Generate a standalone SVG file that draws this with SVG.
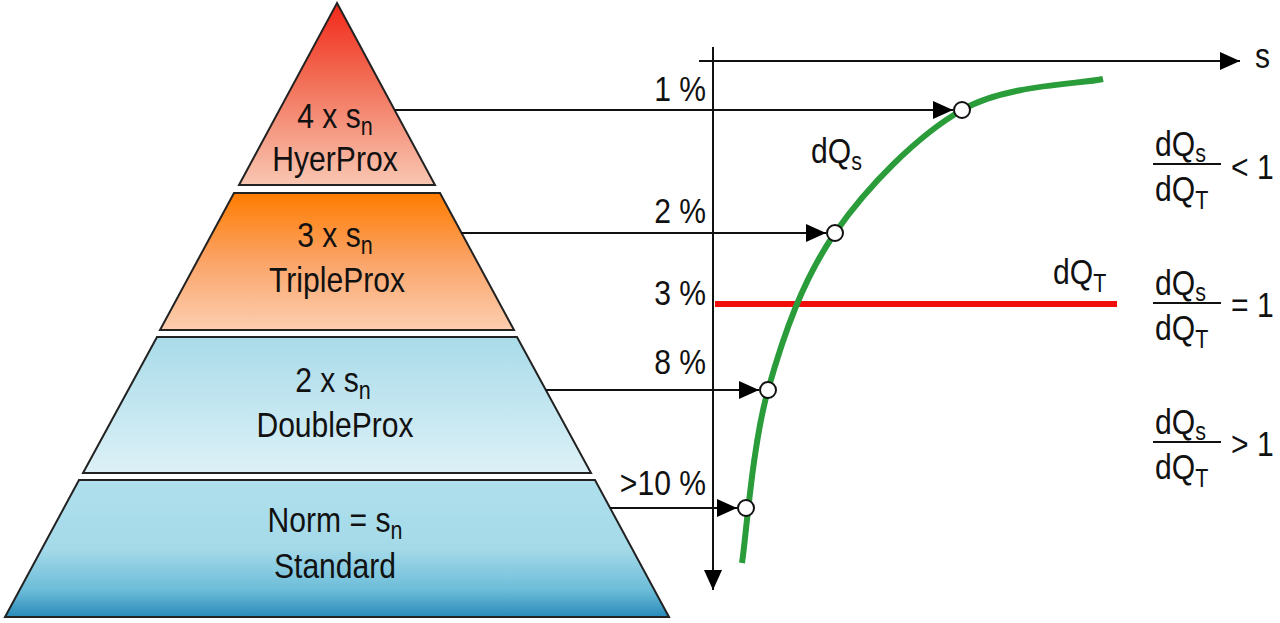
<svg xmlns="http://www.w3.org/2000/svg" width="1280" height="623" viewBox="0 0 1280 623">
<defs>
<linearGradient id="gRed" x1="0" y1="0" x2="0" y2="1">
<stop offset="0" stop-color="#f2281a"/><stop offset="0.4" stop-color="#f26a52"/><stop offset="1" stop-color="#f9c7b2"/>
</linearGradient>
<linearGradient id="gOrange" x1="0" y1="0" x2="0" y2="1">
<stop offset="0" stop-color="#ff7c00"/><stop offset="0.5" stop-color="#fba468"/><stop offset="1" stop-color="#fcceb0"/>
</linearGradient>
<linearGradient id="gLight" x1="0" y1="0" x2="0" y2="1">
<stop offset="0" stop-color="#a9dbe9"/><stop offset="1" stop-color="#dcf1f7"/>
</linearGradient>
<linearGradient id="gBlue" x1="0" y1="0" x2="0" y2="1">
<stop offset="0" stop-color="#afdfec"/><stop offset="0.5" stop-color="#a5dae9"/><stop offset="0.8" stop-color="#6dbdd9"/><stop offset="1" stop-color="#2a8aba"/>
</linearGradient>
<marker id="arr" markerUnits="userSpaceOnUse" markerWidth="20" markerHeight="18" refX="20" refY="9" orient="auto">
<path d="M0,0 L20,9 L0,18 z" fill="#000"/>
</marker>
</defs>
<style>
.tier{stroke:#222;stroke-width:2;stroke-linejoin:miter}
.t{font-family:"Liberation Sans",Arial,sans-serif;font-size:35px;fill:#111}
.sub{font-size:25px}
.mid{text-anchor:middle}
.end{text-anchor:end}
.ln{stroke:#111;stroke-width:2;fill:none}
.pt{fill:#fff;stroke:#111;stroke-width:2}
</style>
<rect width="1280" height="623" fill="#fff"/>

<g id="tier-hyperprox">
<polygon class="tier" fill="url(#gRed)" points="337,3 435,185 239,185"/>
<text class="t mid" transform="translate(335 128) scale(.86 1)">4 x s<tspan class="sub" dy="7">n</tspan></text>
<text class="t mid" transform="translate(335 171) scale(.86 1)">HyerProx</text>
</g>
<g id="tier-tripleprox">
<polygon class="tier" fill="url(#gOrange)" points="234,193 440,193 514,330 160,330"/>
<text class="t mid" transform="translate(335 247) scale(.86 1)">3 x s<tspan class="sub" dy="7">n</tspan></text>
<text class="t mid" transform="translate(337 292) scale(.86 1)">TripleProx</text>
</g>
<g id="tier-doubleprox">
<polygon class="tier" fill="url(#gLight)" points="157,337 517,337 591,473 83,473"/>
<text class="t mid" transform="translate(333 392) scale(.86 1)">2 x s<tspan class="sub" dy="7">n</tspan></text>
<text class="t mid" transform="translate(335 437) scale(.86 1)">DoubleProx</text>
</g>
<g id="tier-standard">
<polygon class="tier" fill="url(#gBlue)" points="79,480 595,480 669,617 5,617"/>
<text class="t mid" transform="translate(335 532) scale(.86 1)">Norm = s<tspan class="sub" dy="7">n</tspan></text>
<text class="t mid" transform="translate(335 578) scale(.86 1)">Standard</text>
</g>

<g id="axes">
<line class="ln" x1="713" y1="47" x2="713" y2="590" marker-end="url(#arr)"/>
<line class="ln" x1="699" y1="61" x2="1240" y2="61" marker-end="url(#arr)"/>
<text class="t" transform="translate(1255 68) scale(.86 1)">s</text>
</g>

<g id="dQT-line">
<line x1="715" y1="304" x2="1117" y2="304" stroke="#f20d0d" stroke-width="6"/>
<text class="t" transform="translate(1053 284) scale(.86 1)">dQ<tspan class="sub" dy="8">T</tspan></text>
</g>

<g id="dQs-curve">
<path d="M742,563 C746.3,534.2 752.5,445 768,390 C783.5,335 802.7,279.7 835,233 C867.3,186.3 917.3,135.7 962,110 C1006.7,84.3 1079.5,84.2 1103,79" fill="none" stroke="#2a9d3a" stroke-width="6"/>
<text class="t" transform="translate(811 163) scale(.86 1)">dQ<tspan class="sub" dy="7">s</tspan></text>
</g>

<g id="connectors">
<line class="ln" x1="395" y1="110" x2="953" y2="110" marker-end="url(#arr)"/>
<line class="ln" x1="461" y1="233" x2="826" y2="233" marker-end="url(#arr)"/>
<line class="ln" x1="546" y1="390" x2="759" y2="390" marker-end="url(#arr)"/>
<line class="ln" x1="610" y1="508" x2="737" y2="508" marker-end="url(#arr)"/>
</g>

<g id="points">
<circle class="pt" cx="962" cy="110" r="8"/>
<circle class="pt" cx="835" cy="233" r="8"/>
<circle class="pt" cx="768" cy="390" r="8"/>
<circle class="pt" cx="746" cy="508" r="8"/>
</g>

<g id="percent-labels">
<text class="t end" transform="translate(706 101) scale(.86 1)">1 %</text>
<text class="t end" transform="translate(706 223) scale(.86 1)">2 %</text>
<text class="t end" transform="translate(706 305) scale(.86 1)">3 %</text>
<text class="t end" transform="translate(706 374) scale(.86 1)">8 %</text>
<text class="t end" transform="translate(706 495) scale(.86 1)">&gt;10 %</text>
</g>

<g id="ratio-less">
<text class="t" transform="translate(1155 156) scale(.86 1)">dQ<tspan class="sub" dy="6">s</tspan></text>
<line class="ln" x1="1153" y1="164" x2="1221" y2="164"/>
<text class="t" transform="translate(1155 201) scale(.86 1)">dQ<tspan class="sub" dy="8">T</tspan></text>
<text class="t" transform="translate(1231 179) scale(.86 1)">&lt; 1</text>
</g>
<g id="ratio-equal">
<text class="t" transform="translate(1155 295) scale(.86 1)">dQ<tspan class="sub" dy="6">s</tspan></text>
<line class="ln" x1="1153" y1="303" x2="1221" y2="303"/>
<text class="t" transform="translate(1155 340) scale(.86 1)">dQ<tspan class="sub" dy="8">T</tspan></text>
<text class="t" transform="translate(1231 317) scale(.86 1)">= 1</text>
</g>
<g id="ratio-greater">
<text class="t" transform="translate(1155 434) scale(.86 1)">dQ<tspan class="sub" dy="6">s</tspan></text>
<line class="ln" x1="1153" y1="442" x2="1221" y2="442"/>
<text class="t" transform="translate(1155 479) scale(.86 1)">dQ<tspan class="sub" dy="8">T</tspan></text>
<text class="t" transform="translate(1231 456) scale(.86 1)">&gt; 1</text>
</g>
</svg>
